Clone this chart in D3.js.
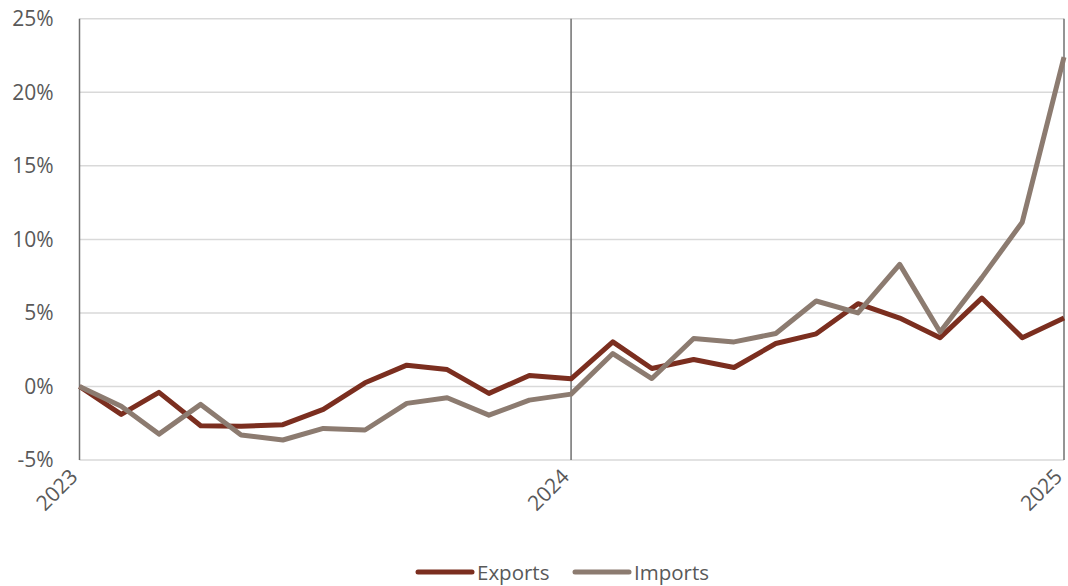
<!DOCTYPE html>
<html><head><meta charset="utf-8">
<script src="https://cdn.jsdelivr.net/npm/d3@7"></script>
<style>body{margin:0;background:#fff}svg{display:block}</style>
</head><body>
<svg id="c" width="1068" height="586"></svg>
<script>
const months = d3.range(25).map(i => new Date(2023, i, 1));
const exportsVals = [0, -1.9, -0.4, -2.67, -2.7, -2.6, -1.56, 0.25, 1.45, 1.15, -0.47, 0.75, 0.52, 3.03, 1.22, 1.83, 1.29, 2.92, 3.58, 5.63, 4.65, 3.32, 6.01, 3.32, 4.65];
const importsVals = [0, -1.34, -3.24, -1.22, -3.3, -3.64, -2.85, -2.96, -1.15, -0.77, -1.95, -0.93, -0.52, 2.24, 0.54, 3.26, 3.03, 3.6, 5.81, 5.0, 8.3, 3.7, 7.4, 11.17, 22.4];
const yTicks = [-5, 0, 5, 10, 15, 20, 25];
const xTicks = [new Date(2023,0,1), new Date(2024,0,1), new Date(2025,0,1)];
const series = [
  {name: "Exports", values: exportsVals, color: "#7b2e1f"},
  {name: "Imports", values: importsVals, color: "#8c7b70"}
];

const svg = d3.select("#c");
const font = "'Open Sans', sans-serif";
const fs = "21px";
const x = d3.scaleTime().domain([months[0], months[24]]).range([79.5, 1064]);
const y = d3.scaleLinear().domain([-5, 25]).range([460, 18.8]);

svg.append("g").selectAll("line").data(yTicks).join("line")
  .attr("x1", 79.5).attr("x2", 1064).attr("y1", d => y(d)).attr("y2", d => y(d))
  .attr("stroke", "#d9d9d9").attr("stroke-width", 1.5);

svg.append("g").selectAll("line").data(xTicks).join("line")
  .attr("x1", d => x(d)).attr("x2", d => x(d)).attr("y1", y(25)).attr("y2", y(-5))
  .attr("stroke", "#707070").attr("stroke-width", 1.5);

const yAxis = svg.append("g").attr("transform", "translate(79.5,0)")
  .call(d3.axisLeft(y).tickValues(yTicks).tickFormat(d => d + "%").tickSize(0).tickPadding(26));
yAxis.select(".domain").remove();
yAxis.selectAll("text").attr("fill", "#595959").style("font-family", font).style("font-size", fs);

const xAxis = svg.append("g").attr("transform", `translate(0,${y(-5)})`)
  .call(d3.axisBottom(x).tickValues(xTicks).tickFormat(d3.timeFormat("%Y")).tickSize(0).tickPadding(0));
xAxis.select(".domain").remove();
xAxis.selectAll("text").attr("fill", "#595959").style("font-family", font).style("font-size", fs)
  .attr("text-anchor", "end").attr("dy", "0").attr("y", 0)
  .attr("transform", "translate(-1,18) rotate(-45)");

const line = d3.line().x((d, i) => x(months[i])).y(d => y(d));
svg.append("g").selectAll("path").data(series).join("path")
  .attr("d", d => line(d.values)).attr("fill", "none")
  .attr("stroke", d => d.color).attr("stroke-width", 5).attr("stroke-linejoin", "round");

const lg = svg.append("g");
const legendX = [418, 575];
series.forEach((s, i) => {
  lg.append("line").attr("x1", legendX[i]).attr("x2", legendX[i] + 54).attr("y1", 572).attr("y2", 572)
    .attr("stroke", s.color).attr("stroke-width", 5).attr("stroke-linecap", "round");
  lg.append("text").attr("x", legendX[i] + 59).attr("y", 580).text(s.name)
    .attr("fill", "#595959").style("font-family", font).style("font-size", "20.5px");
});
</script>
</body></html>
